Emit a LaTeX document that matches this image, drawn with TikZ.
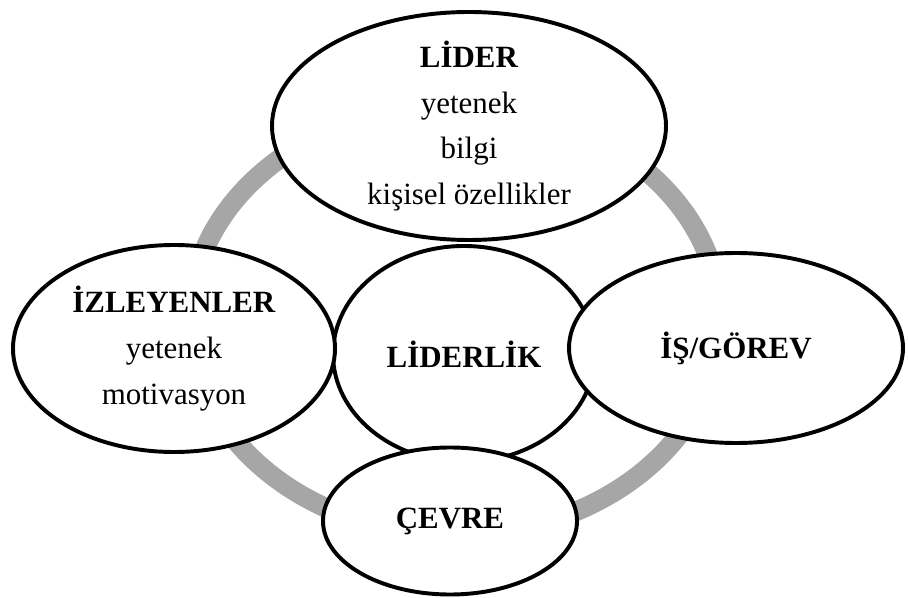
\documentclass[tikz,border=0pt]{standalone}
\usepackage{fontspec}
\setmainfont{Liberation Serif}
\usepackage{tikz}
\usetikzlibrary{shapes.geometric}

\begin{document}
\begin{tikzpicture}[
        blob/.style={draw, ellipse, line width=2.8pt, fill=white, inner sep=-8pt, align=center,
            font=\fontsize{22}{32.5}\selectfont},
        ring/.style={draw=black!35, line width=14pt}
    ]
        \useasboundingbox (0, 0) rectangle (22.7, 14.925);

        % grey ring behind everything
        \draw[ring] (11.375, 6.925) ellipse [x radius=6.625cm, y radius=5.375cm];

        \node[name=liderlik, blob, minimum width=6.55cm, minimum height=5.4cm] at (11.6, 6.075) {\textbf{LİDERLİK}};
        \node[name=izleyenler, blob, minimum width=8.05cm, minimum height=5.175cm] at (4.35, 6.2125)
            {\textbf{İZLEYENLER}\\yetenek\\motivasyon};
        \node[name=lider, blob, minimum width=9.85cm, minimum height=5.7cm] at (11.725, 11.775)
            {\textbf{LİDER}\\yetenek\\bilgi\\kişisel özellikler};
        \node[name=gorev, blob, minimum width=8.35cm, minimum height=4.75cm] at (18.4, 6.225) {\textbf{İŞ/GÖREV}};
        \node[name=cevre, blob, minimum width=6.35cm, minimum height=3.675cm] at (11.25, 1.9) {\textbf{ÇEVRE}};
    \end{tikzpicture}
\end{document}
